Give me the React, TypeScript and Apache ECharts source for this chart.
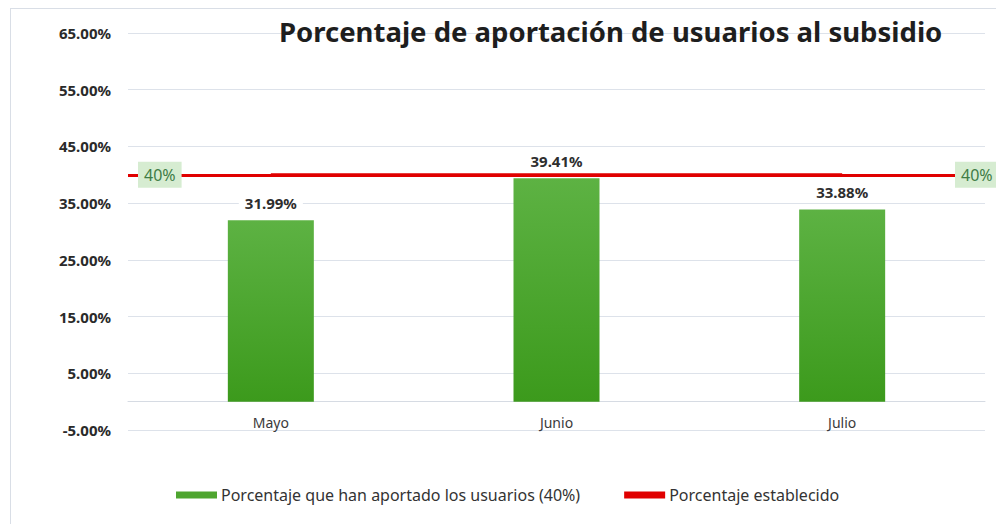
import React, { useEffect, useRef } from "react";
import * as echarts from "echarts";

const categories = ["Mayo", "Junio", "Julio"];
const aportado = [31.99, 39.41, 33.88];
const establecido = [40, 40, 40];
const targetValue = 40;
const seriesNames = ["Porcentaje que han aportado los usuarios (40%)", "Porcentaje establecido"];
const titleText = "Porcentaje de aportación de usuarios al subsidio";

export default function App() {
  const ref = useRef<HTMLDivElement>(null);
  useEffect(() => {
    if (!ref.current) return;
    const chart = echarts.init(ref.current, null, { renderer: "svg" });
    chart.setOption({
      animation: false,
      backgroundColor: "transparent",
      textStyle: { fontFamily: "Noto Sans" },
      title: {
        text: titleText,
        left: 274,
        top: 12,
        textStyle: { fontFamily: "Noto Sans", fontWeight: "bold", fontSize: 27.5, color: "#1e1e1e" },
      },
      grid: { left: 128, right: 11, top: 33, bottom: 94, containLabel: false },
      legend: {
        left: 171,
        top: 482,
        itemWidth: 41,
        itemHeight: 7,
        itemGap: 44,
        textStyle: { fontSize: 16, color: "#333", padding: [0, 0, 0, -1] },
        data: [
          { name: seriesNames[0], icon: "rect", itemStyle: { color: "#4ea52f" } },
          { name: seriesNames[1], icon: "rect", itemStyle: { color: "#e00000" } },
        ],
      },
      xAxis: {
        type: "category",
        data: categories,
        offset: -28.4,
        axisLine: { show: true, onZero: false, lineStyle: { color: "#d6dbe3" } },
        axisTick: { show: false },
        axisLabel: { color: "#3a3a3a", fontSize: 14, margin: 14 },
      },
      yAxis: {
        type: "value",
        min: -5,
        max: 65,
        interval: 10,
        axisLine: { show: false },
        axisTick: { show: false },
        splitLine: { lineStyle: { color: "#dde2ea" } },
        axisLabel: {
          color: "#2a2a2a",
          fontSize: 15,
          fontWeight: "bold",
          margin: 17,
          formatter: (v: number) => v.toFixed(2) + "%",
        },
      },
      series: [
        {
          name: seriesNames[0],
          type: "bar",
          data: aportado,
          barWidth: 86,
          z: 5,
          itemStyle: {
            color: new echarts.graphic.LinearGradient(0, 0, 0, 1, [
              { offset: 0, color: "#5db243" },
              { offset: 1, color: "#3c9a1c" },
            ]),
          },
          label: {
            show: true,
            position: "top",
            distance: 7,
            fontSize: 15,
            fontWeight: "bold",
            color: "#2e2e2e",
            backgroundColor: "#ffffff",
            padding: [3, 6],
            formatter: (p: any) => p.value.toFixed(2) + "%",
          },
        },
        {
          name: seriesNames[1],
          type: "line",
          data: establecido,
          symbol: "none",
          z: 2,
          lineStyle: { color: "#e00000", width: 3 },
          itemStyle: { color: "#e00000" },
          markLine: {
            symbol: "none",
            silent: true,
            lineStyle: { color: "#e00000", width: 3, type: "solid" },
            label: {
              fontSize: 16,
              color: "#3f7c46",
              backgroundColor: "#d6ecd1",
              padding: [5, 6],
              formatter: "40%",
            },
            data: [
              { yAxis: targetValue, label: { position: "insideStart", distance: 10 } },
              { yAxis: targetValue, label: { position: "end", distance: -30 } },
            ],
          },
        },
      ],
    });
    return () => chart.dispose();
  }, []);
  return (
    <div style={{ position: "fixed", left: 0, top: 0, width: 996, height: 524, background: "#fff" }}>
      <div
        style={{
          position: "absolute",
          left: 10,
          top: 8,
          width: 990,
          height: 530,
          border: "1px solid #d9dee6",
          boxSizing: "border-box",
        }}
      />
      <div ref={ref} style={{ position: "absolute", left: 0, top: 0, width: 996, height: 524 }} />
    </div>
  );
}
